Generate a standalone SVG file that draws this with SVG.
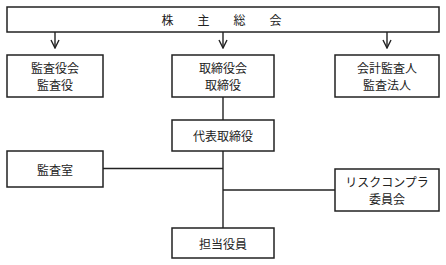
<svg xmlns="http://www.w3.org/2000/svg" width="446" height="265" viewBox="0 0 446 265">
<style>
.box{fill:#fff;stroke:#222;stroke-width:1.5}
.ln{fill:none;stroke:#222;stroke-width:1.4}
text{font-family:"Noto Sans CJK JP","Noto Sans",sans-serif;font-size:12px;fill:#222;text-anchor:middle;dominant-baseline:central}
</style>
<defs>
<marker id="ah" viewBox="0 0 10 10" refX="9" refY="5" markerWidth="10" markerHeight="10" markerUnits="userSpaceOnUse" orient="auto">
<path d="M1,1 L9,5 L1,9" fill="none" stroke="#222" stroke-width="1.4"/>
</marker>
</defs>
<g id="connectors">
<line class="ln" x1="55" y1="32" x2="55" y2="48" marker-end="url(#ah)"/>
<line class="ln" x1="223" y1="32" x2="223" y2="48" marker-end="url(#ah)"/>
<line class="ln" x1="387" y1="32" x2="387" y2="48" marker-end="url(#ah)"/>
<line class="ln" x1="223" y1="97" x2="223" y2="120"/>
<line class="ln" x1="223" y1="151" x2="223" y2="228"/>
<line class="ln" x1="103" y1="168.5" x2="223" y2="168.5"/>
<line class="ln" x1="223" y1="190" x2="335" y2="190"/>
</g>
<g id="n-soukai">
<rect class="box" x="7" y="7" width="432" height="25"/>
<text x="224.5" y="19.5" style="letter-spacing:6px">株　主　総　会</text>
</g>
<g id="n-kansayakukai">
<rect class="box" x="7" y="55" width="96" height="42"/>
<text x="55" y="67">監査役会</text>
<text x="55" y="84">監査役</text>
</g>
<g id="n-torishimariyakukai">
<rect class="box" x="172" y="55" width="102" height="42"/>
<text x="223" y="67">取締役会</text>
<text x="223" y="84">取締役</text>
</g>
<g id="n-kaikei">
<rect class="box" x="335" y="55" width="104" height="42"/>
<text x="387" y="67">会計監査人</text>
<text x="387" y="84">監査法人</text>
</g>
<g id="n-daihyo">
<rect class="box" x="172" y="120" width="102" height="31"/>
<text x="223" y="135.5">代表取締役</text>
</g>
<g id="n-kansashitsu">
<rect class="box" x="7" y="151" width="96" height="36"/>
<text x="55" y="169">監査室</text>
</g>
<g id="n-risk">
<rect class="box" x="335" y="169" width="104" height="42"/>
<text x="387" y="181.5">リスクコンプラ</text>
<text x="387" y="198.5">委員会</text>
</g>
<g id="n-tanto">
<rect class="box" x="172" y="228" width="102" height="30"/>
<text x="223" y="243">担当役員</text>
</g>
</svg>
